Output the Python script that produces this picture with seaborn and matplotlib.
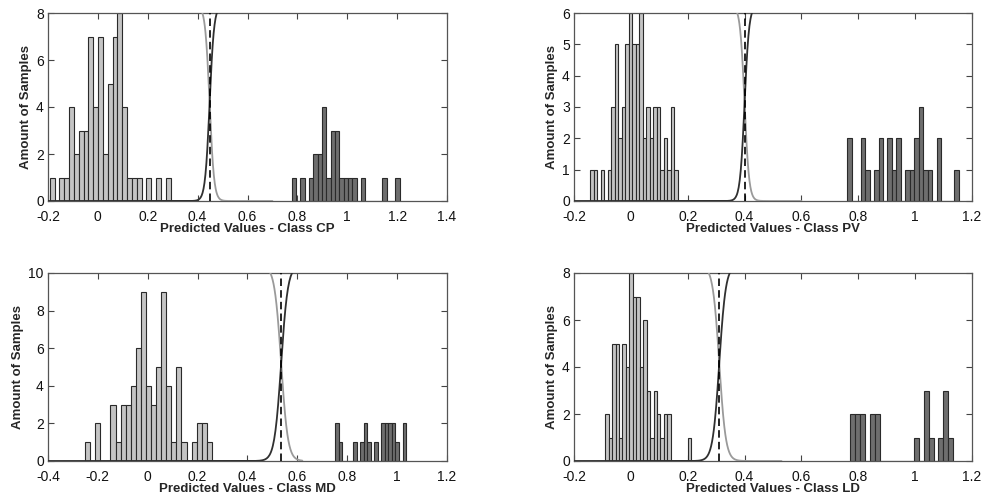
import numpy as np
import pandas as pd
import matplotlib
matplotlib.use("Agg")
import matplotlib.pyplot as plt
import seaborn as sns
from matplotlib.ticker import FuncFormatter, MultipleLocator

sns.set_style("ticks")
plt.rcParams['font.family'] = ['Liberation Sans', 'DejaVu Sans']
plt.rcParams['axes.unicode_minus'] = False

# ---------------- data ----------------
classes = ["CP", "PV", "MD", "LD"]

# negative-class histograms (light bars): first bin centre, bin width, counts
neg_start = [-0.183, -0.1362, -0.241, -0.084]
neg_width = [0.019375, 0.01229, 0.02033, 0.01213]
neg_counts = [
    [1, 0, 1, 1, 4, 2, 3, 3, 7, 4, 7, 2, 5, 7, 8, 4, 1, 1, 1, 0, 1, 0, 1, 0, 1],
    [1, 1, 0, 1, 0, 1, 3, 5, 2, 3, 5, 6, 5, 5, 6, 2, 3, 2, 3, 3, 1, 2, 1, 3, 1],
    [1, 0, 2, 0, 0, 3, 1, 3, 3, 4, 6, 9, 4, 3, 5, 9, 4, 1, 5, 1, 0, 1, 2, 2, 1],
    [2, 1, 5, 5, 1, 5, 4, 8, 7, 7, 4, 6, 3, 1, 3, 2, 1, 2, 2, 0, 0, 0, 0, 0, 1],
]

# positive-class histograms (dark bars)
pos_start = [0.786, 0.769, 0.759, 0.780]
pos_width = [0.01733, 0.01571, 0.01421, 0.01725]
pos_counts = [
    [1, 0, 1, 0, 1, 2, 2, 4, 1, 3, 3, 1, 1, 1, 1, 0, 1, 0, 0, 0, 0, 1, 0, 0, 1],
    [2, 0, 0, 2, 1, 0, 1, 2, 0, 2, 1, 2, 0, 1, 1, 2, 3, 1, 1, 0, 2, 0, 0, 0, 1],
    [2, 1, 0, 0, 0, 1, 0, 1, 2, 1, 0, 1, 0, 2, 2, 2, 2, 1, 0, 2],
    [2, 2, 2, 0, 2, 2, 0, 0, 0, 0, 0, 0, 0, 1, 0, 3, 1, 0, 1, 3, 1],
]

# decision thresholds and sigmoid transition scale
thresholds = [0.448, 0.400, 0.535, 0.311]
trans_scale = [0.0090, 0.0080, 0.0135, 0.0115]
gray_tail_end = [0.70, 0.60, 0.62, 0.53]

xlims = [(-0.2, 1.4), (-0.2, 1.2), (-0.4, 1.2), (-0.2, 1.2)]
ylims = [8, 6, 10, 8]
ysteps = [2, 1, 2, 2]

# ---------------- layout ----------------
W, H = 984, 497
fig = plt.figure(figsize=(W / 100, H / 100), dpi=100)
boxes = [
    (48, 13, 447, 201),
    (574, 13, 972, 201),
    (48, 273, 447, 461),
    (574, 273, 972, 461),
]

LIGHT = "#c4c4c4"
DARK = "#6e6e6e"
EDGE = "#2a2a2a"

fmt = FuncFormatter(lambda v, p: ("%g" % round(v, 6)))

for i in range(4):
    l, t, r, b = boxes[i]
    ax = fig.add_axes([l / W, (H - b) / H, (r - l) / W, (b - t) / H])

    for start, width, counts, col in [
        (neg_start[i], neg_width[i], neg_counts[i], LIGHT),
        (pos_start[i], pos_width[i], pos_counts[i], DARK),
    ]:
        n = len(counts)
        df = pd.DataFrame({"x": start + width * np.arange(n),
                           "w": np.asarray(counts, dtype=float)})
        edges = list(start - width / 2 + width * np.arange(n + 1))
        sns.histplot(data=df, x="x", weights="w", bins=edges, ax=ax,
                     color=col, edgecolor=EDGE, linewidth=0.8, alpha=1,
                     stat="count", zorder=2)

    top = ylims[i]
    thr = thresholds[i]
    s = trans_scale[i]
    ceil = top * 1.04
    xr = np.linspace(xlims[i][0], thr + 0.12, 400)
    rising = ceil / (1 + np.exp(-(xr - thr) / s))
    xf = np.linspace(thr - 0.12, gray_tail_end[i], 400)
    falling = ceil / (1 + np.exp((xf - thr) / s))
    sns.lineplot(x=xf, y=falling, ax=ax, color="#9a9a9a", linewidth=1.3,
                 zorder=3, estimator=None, sort=False)
    sns.lineplot(x=xr, y=rising, ax=ax, color="#303030", linewidth=1.3,
                 zorder=3, estimator=None, sort=False)
    ax.plot([thr, thr], [0, top], color="black", linestyle=(0, (4.5, 2.5)),
            linewidth=1.2, zorder=4)

    ax.set_xlim(*xlims[i])
    ax.set_ylim(0, top)
    ax.xaxis.set_major_locator(MultipleLocator(0.2))
    ax.yaxis.set_major_locator(MultipleLocator(ysteps[i]))
    ax.xaxis.set_major_formatter(fmt)
    ax.yaxis.set_major_formatter(fmt)
    ax.tick_params(direction="in", top=True, right=True, length=4,
                   width=0.8, color="#444444", labelsize=10, pad=3,
                   labelcolor="#111111")
    ax.tick_params(axis="x", pad=6.5)
    for sp in ax.spines.values():
        sp.set_visible(True)
        sp.set_color("#555555")
        sp.set_linewidth(0.9)
    ax.set_xlabel("Predicted Values - Class " + classes[i], fontsize=9.5,
                  fontweight="bold", labelpad=-1)
    ax.set_ylabel("Amount of Samples", fontsize=9.5, fontweight="bold",
                  labelpad=3)

fig.savefig("out.png", dpi=100, facecolor="white")
